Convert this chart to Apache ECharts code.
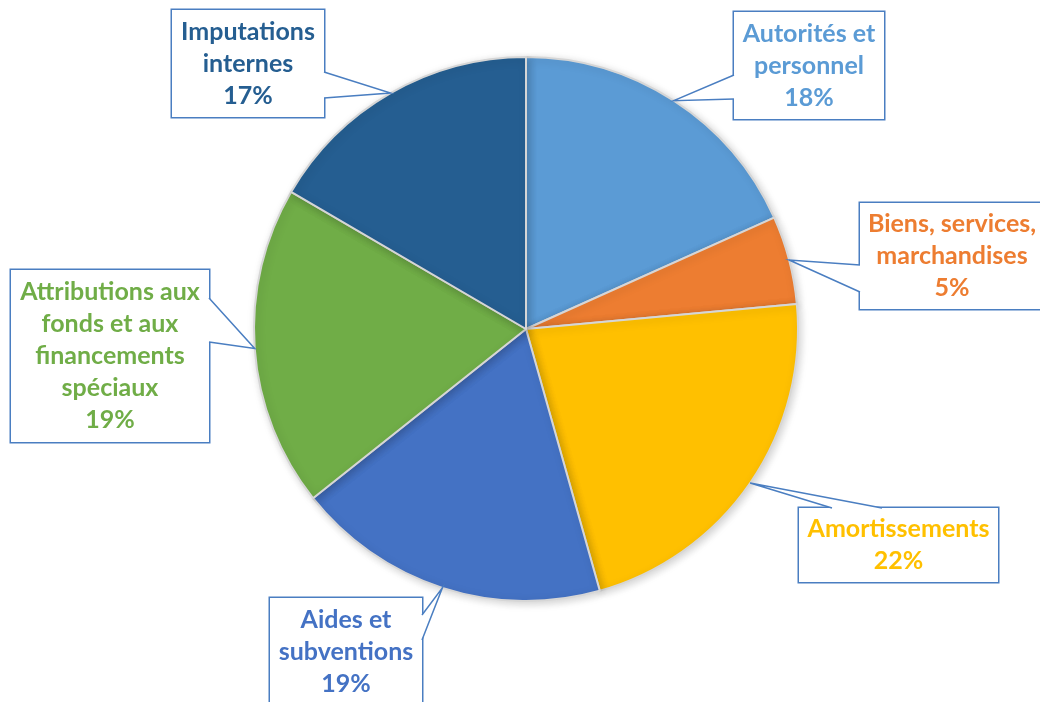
<!DOCTYPE html>
<html><head><meta charset="utf-8">
<script src="https://cdn.jsdelivr.net/npm/echarts@6/dist/echarts.min.js"></script>
<style>html,body{margin:0;padding:0;background:#fff}#c{width:1040px;height:702px}</style>
</head><body><div id="c"></div>
<script>
const categories = ['Autorités et\npersonnel', 'Biens, services,\nmarchandises', 'Amortissements', 'Aides et\nsubventions', 'Attributions aux\nfonds et aux\nfinancements\nspéciaux', 'Imputations\ninternes'];
const values = [18.3, 5.25, 22.1, 18.7, 19.1, 16.6];
const colors = ['#5B9BD5', '#ED7D31', '#FFC000', '#4472C4', '#70AD47', '#255E91'];

// label box layout (centre, size) and callout pointer base on a box side
const boxes = [
  {cx: 809, cy: 65.5, w: 150, h: 107, side: 'left', a: 63, b: 87},
  {cx: 952, cy: 256, w: 184, h: 106, side: 'left', a: 62, b: 89},
  {cx: 898.5, cy: 545, w: 199, h: 74, side: 'top', a: 33, b: 83},
  {cx: 346, cy: 652, w: 152, h: 108, side: 'right', a: 17, b: 42},
  {cx: 110, cy: 356, w: 198, h: 172, side: 'right', a: 28, b: 72},
  {cx: 248, cy: 63.5, w: 152, h: 107, side: 'right', a: 62, b: 88}
];
const LH = 32;
const BORDER = '#4A7EC1';

const chart = echarts.init(document.getElementById('c'), null, {renderer: 'canvas'});
const seriesData = categories.map((name, i) => {
  const nLines = name.split('\n').length + 1;
  const b = boxes[i];
  return {
    name: name,
    value: values[i],
    itemStyle: {color: colors[i]},
    label: {
      color: colors[i],
      width: b.w,
      padding: [(b.h - nLines * LH) / 2, 0]
    }
  };
});

chart.setOption({
  animation: false,
  series: [{
    type: 'pie',
    center: [526, 329],
    radius: 272,
    startAngle: 90,
    clockwise: true,
    percentPrecision: 0,
    avoidLabelOverlap: false,
    silent: true,
    emphasis: {disabled: true},
    itemStyle: {
      borderColor: '#D6D6D6',
      borderWidth: 2,
      shadowBlur: 8,
      shadowColor: 'rgba(0,0,0,0.18)',
      shadowOffsetX: 2,
      shadowOffsetY: 2
    },
    label: {
      show: true,
      position: 'outside',
      formatter: '{b}\n{d}%',
      fontFamily: 'Lato',
      fontWeight: 'bold',
      fontSize: 25,
      lineHeight: LH,
      align: 'center',
      backgroundColor: '#fff',
      borderColor: BORDER,
      borderWidth: 1.5
    },
    labelLine: {show: false},
    labelLayout: function (params) {
      const b = boxes[params.dataIndex];
      return {x: b.cx, y: b.cy, align: 'center', verticalAlign: 'middle'};
    },
    data: seriesData
  }]
});

// callout pointers, tip anchored at each slice's mid-angle on the arc (from the library layout)
const data = chart.getModel().getSeriesByIndex(0).getData();
const graphics = [];
boxes.forEach((b, i) => {
  const L = data.getItemLayout(i);
  const mid = (L.startAngle + L.endAngle) / 2;
  const tip = [L.cx + L.r * Math.cos(mid), L.cy + L.r * Math.sin(mid)];
  const left = b.cx - b.w / 2, top = b.cy - b.h / 2;
  let p1, p2, inw;
  if (b.side === 'right') { p1 = [left + b.w, top + b.a]; p2 = [left + b.w, top + b.b]; inw = [-2, 0]; }
  else if (b.side === 'left') { p1 = [left, top + b.a]; p2 = [left, top + b.b]; inw = [2, 0]; }
  else { p1 = [left + b.a, top]; p2 = [left + b.b, top]; inw = [0, 2]; }
  const q1 = [p1[0] + inw[0], p1[1] + inw[1]], q2 = [p2[0] + inw[0], p2[1] + inw[1]];
  graphics.push({type: 'polygon', silent: true, z: 100, shape: {points: [q1, p1, tip, p2, q2]}, style: {fill: '#fff', stroke: null}});
  graphics.push({type: 'polyline', silent: true, z: 101, shape: {points: [p1, tip, p2]}, style: {fill: null, stroke: BORDER, lineWidth: 1.5}});
});
chart.setOption({graphic: graphics});
</script>
</body></html>
